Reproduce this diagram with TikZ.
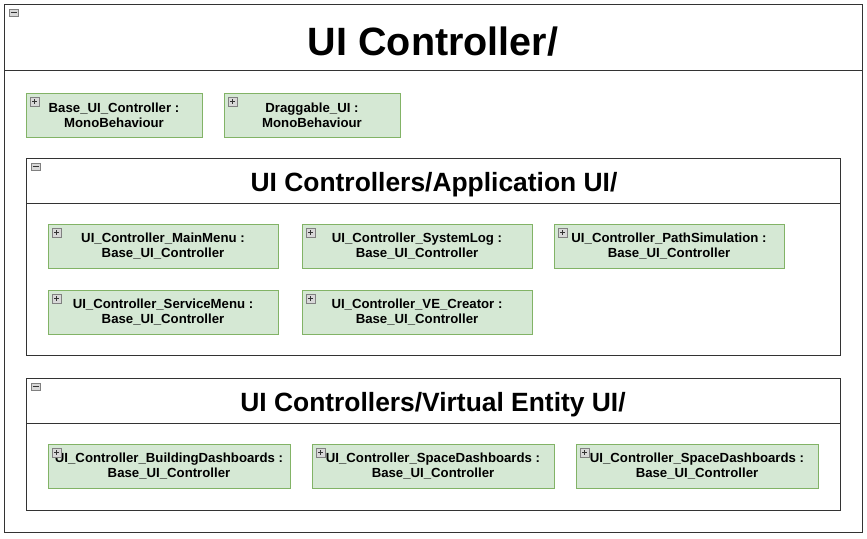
\documentclass[tikz,border=0pt]{standalone}
\usepackage{fontspec}
\setmainfont{Liberation Sans}
\usetikzlibrary{positioning,calc}
\definecolor{clsfill}{HTML}{D5E8D4}
\definecolor{clsline}{HTML}{82B366}
\definecolor{iconfill}{HTML}{D8D8D8}
\tikzstyle{cls}=[draw=clsline, fill=clsfill, line width=1pt, minimum height=44pt, inner sep=0pt, outer sep=0pt, align=center, font=\fontsize{13.2}{15}\selectfont\bfseries]
\tikzstyle{pkg}=[draw=black!80, line width=1pt, anchor=north west, inner sep=0pt, outer sep=0pt]
\tikzstyle{pkgtitle}=[anchor=base, inner sep=0pt, font=\fontsize{26.4}{30}\selectfont\bfseries]
\tikzstyle{icon}=[draw=gray, fill=iconfill, line width=0.6pt]
\newcommand{\minusicon}[1]{%
  \draw[icon] ($(#1)+(5,5)$) rectangle ++(9,7);
  \draw[line width=1.1pt,black!80] ($(#1)+(6.5,8.5)$) -- ++(6,0);}
\newcommand{\plusicon}[1]{%
  \draw[icon] ($(#1.north west)+(4,4)$) rectangle ++(9,9);
  \draw[line width=0.9pt,black!80] ($(#1.north west)+(6,8.5)$) -- ++(5,0);
  \draw[line width=0.9pt,black!80] ($(#1.north west)+(8.5,6)$) -- ++(0,5);}

\begin{document}
\begin{tikzpicture}[x=1pt,y=-1pt,node distance=24pt]
\useasboundingbox (0,0) rectangle (867,538);

% outer package
\node (top) [pkg,minimum width=858pt,minimum height=528pt] at (4,4) {};
\draw[black!80,line width=1pt] (4,70) -- (862,70);
\node (toptitle) [pkgtitle,font=\fontsize{39.5}{44}\selectfont\bfseries] at (433,55) {UI Controller/};
\minusicon{top.north west}

\node (base) [cls,minimum width=176pt,anchor=north west] at (26,93) {Base\_UI\_Controller :\\MonoBehaviour};
\node (drag) [cls,minimum width=176pt,right=22pt of base] {Draggable\_UI :\\MonoBehaviour};

% application UI
\node (app) [pkg,minimum width=814pt,minimum height=197pt] at (26,158) {};
\draw[black!80,line width=1pt] (26,203) -- (840,203);
\node (apptitle) [pkgtitle] at (434,191) {UI Controllers/Application UI/};
\minusicon{app.north west}

\node (mainmenu) [cls,minimum width=230pt,anchor=north west] at (48,224) {UI\_Controller\_MainMenu :\\Base\_UI\_Controller};
\node (syslog) [cls,minimum width=230pt,right=of mainmenu] {UI\_Controller\_SystemLog :\\Base\_UI\_Controller};
\node (pathsim) [cls,minimum width=230pt,right=22pt of syslog] {UI\_Controller\_PathSimulation :\\Base\_UI\_Controller};
\node (service) [cls,minimum width=230pt,below=22pt of mainmenu] {UI\_Controller\_ServiceMenu :\\Base\_UI\_Controller};
\node (vecreator) [cls,minimum width=230pt,right=of service] {UI\_Controller\_VE\_Creator :\\Base\_UI\_Controller};

% virtual entity UI
\node (ve) [pkg,minimum width=814pt,minimum height=132pt] at (26,378) {};
\draw[black!80,line width=1pt] (26,423) -- (840,423);
\node (vetitle) [pkgtitle] at (433,411) {UI Controllers/Virtual Entity UI/};
\minusicon{ve.north west}

\node (building) [cls,minimum width=242pt,anchor=north west] at (48,444) {UI\_Controller\_BuildingDashboards :\\Base\_UI\_Controller};
\node (space) [cls,minimum width=242pt,right=22pt of building] {UI\_Controller\_SpaceDashboards :\\Base\_UI\_Controller};
\node (space2) [cls,minimum width=242pt,right=22pt of space] {UI\_Controller\_SpaceDashboards :\\Base\_UI\_Controller};

\foreach \n in {base,drag,mainmenu,syslog,pathsim,service,vecreator,building,space,space2}
  \plusicon{\n};
\end{tikzpicture}
\end{document}
